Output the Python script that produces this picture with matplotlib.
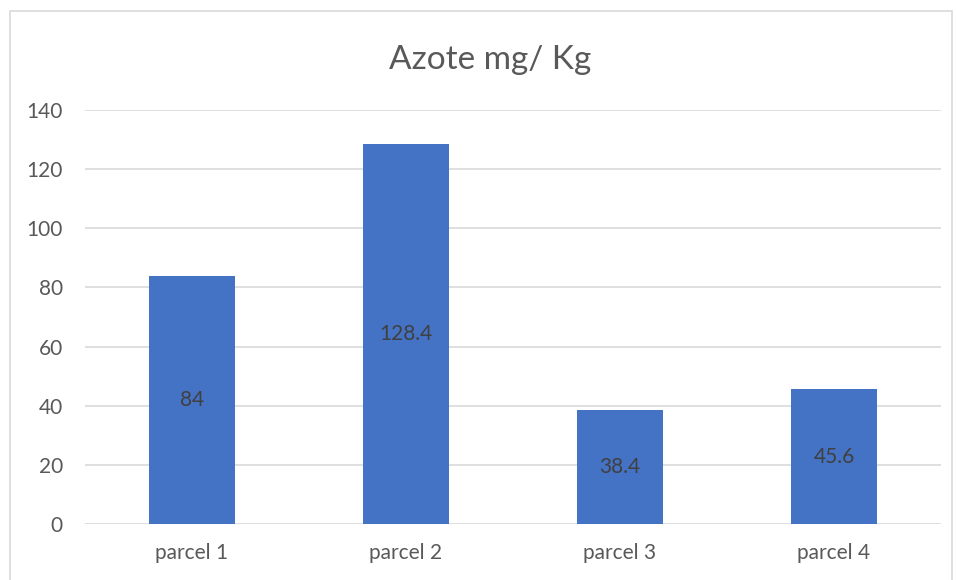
import matplotlib.pyplot as plt
from matplotlib.patches import Rectangle

# data
categories = ["parcel 1", "parcel 2", "parcel 3", "parcel 4"]
values = [84, 128.4, 38.4, 45.6]
yticks = [0, 20, 40, 60, 80, 100, 120, 140]

BAR_COLOR = "#4472C4"
GRID_COLOR = "#D9D9D9"
TEXT_COLOR = "#595959"
LABEL_COLOR = "#404040"

plt.rcParams["font.family"] = ["Lato", "DejaVu Sans"]

fig = plt.figure(figsize=(9.56, 5.8), dpi=100)
ax = fig.add_axes([85 / 956, 1 - 524 / 580, (941 - 85) / 956, (524 - 110) / 580])

x = range(len(categories))
bars = ax.bar(x, values, width=0.4, color=BAR_COLOR, zorder=3)

for b, v in zip(bars, values):
    ax.text(b.get_x() + b.get_width() / 2, v / 2, f"{v:g}",
            ha="center", va="center", fontsize=15, color=LABEL_COLOR, zorder=4)

ax.set_xlim(-0.5, len(categories) - 0.5)
ax.set_ylim(0, 140)
ax.set_yticks(yticks)
ax.set_xticks(list(x))
ax.set_xticklabels(categories)
ax.tick_params(length=0, labelsize=15, labelcolor=TEXT_COLOR)
ax.tick_params(axis="x", pad=14)
ax.tick_params(axis="y", pad=16)

ax.grid(axis="y", color=GRID_COLOR, linewidth=1.2, zorder=0)
for s in ax.spines.values():
    s.set_visible(False)

# chart border
fig.patches.append(Rectangle((10 / 956, -0.05), 942 / 956, 1 - 11 / 580 + 0.05,
                             transform=fig.transFigure, fill=False,
                             edgecolor=GRID_COLOR, linewidth=1.2))

fig.text(490 / 956, 1 - 60 / 580, "Azote mg/ Kg", ha="center", va="center",
         fontsize=24, color=TEXT_COLOR)

fig.savefig("out.png", dpi=100)
